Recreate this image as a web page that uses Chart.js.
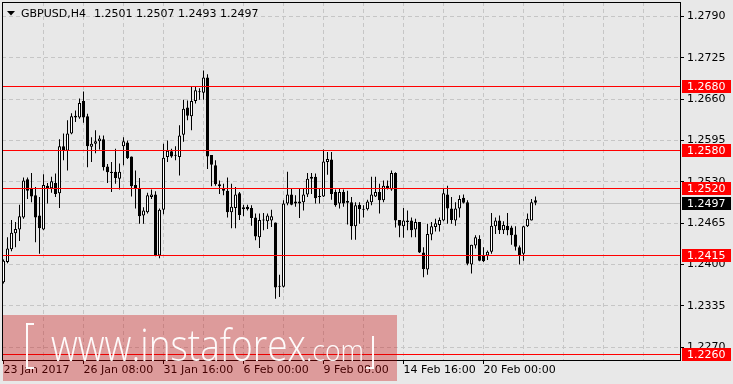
<!DOCTYPE html>
<html>
<head>
<meta charset="utf-8">
<script src="https://cdn.jsdelivr.net/npm/chart.js@4.4.1/dist/chart.umd.min.js"></script>
<style>
  html, body { margin: 0; padding: 0; background: #e8e8e8; overflow: hidden; }
  canvas { display: block; }
</style>
</head>
<body>
<canvas id="chart" width="733" height="384"></canvas>
<script>
// GBPUSD H4, one value per bar (23 Jan 2017 00:00 ... 22 Feb 2017 04:00)
const symbol = 'GBPUSD,H4';
const opens = [
  1.2372, 1.2404, 1.2424, 1.2449, 1.2455, 1.2474, 1.2534, 1.2519, 1.2509, 1.2477,
  1.2455, 1.2524, 1.2520, 1.2528, 1.2512, 1.2586, 1.2579, 1.2606, 1.2634, 1.2631,
  1.2657, 1.2633, 1.2585, 1.2590, 1.2594, 1.2597, 1.2554, 1.2546, 1.2546, 1.2535,
  1.2586, 1.2592, 1.2570, 1.2525, 1.2520, 1.2477, 1.2482, 1.2506, 1.2510, 1.2414,
  1.2486, 1.2569, 1.2578, 1.2572, 1.2569, 1.2604, 1.2647, 1.2633, 1.2657, 1.2671,
  1.2670, 1.2694, 1.2572, 1.2556, 1.2526, 1.2519, 1.2516, 1.2482, 1.2489, 1.2512,
  1.2490, 1.2491, 1.2489, 1.2474, 1.2443, 1.2469, 1.2468, 1.2469, 1.2466, 1.2365,
  1.2365, 1.2496, 1.2510, 1.2496, 1.2499, 1.2498, 1.2510, 1.2535, 1.2538, 1.2506,
  1.2507, 1.2561, 1.2565, 1.2514, 1.2496, 1.2514, 1.2500, 1.2498, 1.2460, 1.2494,
  1.2487, 1.2487, 1.2498, 1.2507, 1.2514, 1.2501, 1.2524, 1.2518, 1.2544, 1.2470,
  1.2460, 1.2469, 1.2469, 1.2455, 1.2467, 1.2419, 1.2392, 1.2447, 1.2459, 1.2462,
  1.2469, 1.2510, 1.2488, 1.2469, 1.2488, 1.2505, 1.2498, 1.2400, 1.2430, 1.2440,
  1.2414, 1.2414, 1.2420, 1.2460, 1.2469, 1.2454, 1.2461, 1.2458, 1.2447, 1.2427,
  1.2417, 1.2460, 1.2469, 1.2501
];
const highs = [
  1.2408, 1.2443, 1.2470, 1.2467, 1.2494, 1.2537, 1.2537, 1.2544, 1.2522, 1.2506,
  1.2542, 1.2528, 1.2538, 1.2543, 1.2597, 1.2606, 1.2627, 1.2638, 1.2642, 1.2661,
  1.2672, 1.2637, 1.2600, 1.2611, 1.2603, 1.2603, 1.2558, 1.2561, 1.2582, 1.2559,
  1.2600, 1.2595, 1.2570, 1.2548, 1.2536, 1.2490, 1.2513, 1.2518, 1.2515, 1.2488,
  1.2590, 1.2595, 1.2582, 1.2586, 1.2619, 1.2659, 1.2658, 1.2679, 1.2679, 1.2677,
  1.2705, 1.2699, 1.2572, 1.2564, 1.2532, 1.2527, 1.2537, 1.2527, 1.2522, 1.2514,
  1.2494, 1.2494, 1.2493, 1.2480, 1.2480, 1.2481, 1.2480, 1.2486, 1.2466, 1.2384,
  1.2501, 1.2546, 1.2519, 1.2509, 1.2519, 1.2519, 1.2544, 1.2544, 1.2543, 1.2519,
  1.2581, 1.2577, 1.2577, 1.2518, 1.2519, 1.2518, 1.2516, 1.2506, 1.2498, 1.2498,
  1.2493, 1.2502, 1.2538, 1.2538, 1.2527, 1.2532, 1.2532, 1.2548, 1.2545, 1.2470,
  1.2489, 1.2485, 1.2474, 1.2472, 1.2467, 1.2427, 1.2464, 1.2467, 1.2472, 1.2474,
  1.2519, 1.2524, 1.2506, 1.2498, 1.2509, 1.2510, 1.2501, 1.2431, 1.2446, 1.2446,
  1.2427, 1.2422, 1.2481, 1.2474, 1.2477, 1.2468, 1.2481, 1.2461, 1.2460, 1.2430,
  1.2461, 1.2480, 1.2503, 1.2507
];
const lows = [
  1.2370, 1.2402, 1.2421, 1.2427, 1.2437, 1.2472, 1.2503, 1.2498, 1.2435, 1.2417,
  1.2454, 1.2496, 1.2513, 1.2506, 1.2489, 1.2564, 1.2548, 1.2605, 1.2624, 1.2629,
  1.2623, 1.2553, 1.2561, 1.2575, 1.2581, 1.2548, 1.2528, 1.2514, 1.2527, 1.2518,
  1.2556, 1.2566, 1.2507, 1.2488, 1.2464, 1.2464, 1.2480, 1.2503, 1.2413, 1.2410,
  1.2479, 1.2561, 1.2568, 1.2564, 1.2540, 1.2593, 1.2627, 1.2611, 1.2653, 1.2659,
  1.2659, 1.2550, 1.2523, 1.2524, 1.2511, 1.2509, 1.2474, 1.2457, 1.2457, 1.2470,
  1.2476, 1.2485, 1.2461, 1.2438, 1.2426, 1.2454, 1.2456, 1.2459, 1.2346, 1.2349,
  1.2364, 1.2493, 1.2493, 1.2491, 1.2473, 1.2485, 1.2506, 1.2511, 1.2496, 1.2496,
  1.2506, 1.2541, 1.2502, 1.2491, 1.2488, 1.2491, 1.2463, 1.2439, 1.2439, 1.2464,
  1.2474, 1.2485, 1.2493, 1.2506, 1.2480, 1.2498, 1.2518, 1.2516, 1.2458, 1.2443,
  1.2442, 1.2454, 1.2443, 1.2443, 1.2418, 1.2380, 1.2384, 1.2438, 1.2452, 1.2452,
  1.2468, 1.2464, 1.2464, 1.2461, 1.2474, 1.2496, 1.2399, 1.2386, 1.2425, 1.2405,
  1.2404, 1.2407, 1.2417, 1.2448, 1.2448, 1.2448, 1.2446, 1.2431, 1.2422, 1.2400,
  1.2406, 1.2459, 1.2469, 1.2493
];
const closes = [
  1.2406, 1.2425, 1.2450, 1.2456, 1.2476, 1.2532, 1.2516, 1.2507, 1.2474, 1.2457,
  1.2525, 1.2519, 1.2531, 1.2511, 1.2586, 1.2579, 1.2606, 1.2633, 1.2631, 1.2654,
  1.2631, 1.2586, 1.2590, 1.2594, 1.2598, 1.2553, 1.2545, 1.2544, 1.2536, 1.2546,
  1.2594, 1.2567, 1.2523, 1.2519, 1.2476, 1.2485, 1.2509, 1.2510, 1.2414, 1.2486,
  1.2568, 1.2579, 1.2570, 1.2571, 1.2603, 1.2645, 1.2634, 1.2657, 1.2674, 1.2672,
  1.2694, 1.2570, 1.2557, 1.2526, 1.2523, 1.2516, 1.2482, 1.2491, 1.2510, 1.2478,
  1.2487, 1.2487, 1.2473, 1.2444, 1.2470, 1.2470, 1.2477, 1.2476, 1.2364, 1.2365,
  1.2496, 1.2510, 1.2494, 1.2499, 1.2496, 1.2510, 1.2535, 1.2538, 1.2504, 1.2507,
  1.2562, 1.2566, 1.2511, 1.2493, 1.2514, 1.2496, 1.2497, 1.2460, 1.2493, 1.2487,
  1.2486, 1.2499, 1.2510, 1.2514, 1.2501, 1.2524, 1.2520, 1.2544, 1.2469, 1.2461,
  1.2469, 1.2467, 1.2454, 1.2467, 1.2419, 1.2393, 1.2448, 1.2460, 1.2465, 1.2470,
  1.2512, 1.2488, 1.2470, 1.2488, 1.2503, 1.2497, 1.2401, 1.2431, 1.2443, 1.2406,
  1.2405, 1.2420, 1.2461, 1.2469, 1.2454, 1.2462, 1.2454, 1.2446, 1.2428, 1.2414,
  1.2460, 1.2472, 1.2498, 1.2497
];

// time axis: bar index of each labelled tick
const dateTicks = [0, 20, 40, 60, 80, 100, 120];
const dateLabels = ['23 Jan 2017', '26 Jan 08:00', '31 Jan 16:00', '6 Feb 00:00', '9 Feb 08:00', '14 Feb 16:00', '20 Feb 00:00'];
const gridSteps = [0, 10, 20, 30, 40, 50, 60, 70, 80, 90, 100, 110, 120, 130, 140, 150, 160];

// price axis
const priceTicks = [1.2270, 1.2335, 1.2400, 1.2465, 1.2530, 1.2595, 1.2660, 1.2725, 1.2790];
const levels = [1.2680, 1.2580, 1.2520, 1.2415, 1.2260];
const bid = 1.2497;

const FONT = 'DejaVu Sans';
const idx = opens.map((_, i) => i);

const bodies = idx.map(i => ({ x: i, y: [opens[i], closes[i]] }));
const wicks = idx.map(i => ({ x: i, y: [lows[i], highs[i]] }));

const px = (y) => Math.round(y) + 0.5;

const overlay = {
  id: 'overlay',
  beforeDraw(chart) {
    const ctx = chart.ctx;
    ctx.save();
    ctx.fillStyle = '#e8e8e8';
    ctx.fillRect(0, 0, chart.width, chart.height);
    ctx.restore();
  },
  beforeDatasetsDraw(chart) {
    const { ctx, chartArea: a, scales: { y } } = chart;
    ctx.save();
    ctx.strokeStyle = '#c0c0c0';
    ctx.lineWidth = 1;
    const yy = px(y.getPixelForValue(bid));
    ctx.beginPath(); ctx.moveTo(a.left, yy); ctx.lineTo(a.right, yy); ctx.stroke();
    ctx.restore();
  },
  afterDatasetsDraw(chart) {
    const { ctx, chartArea: a, scales: { y } } = chart;
    ctx.save();
    ctx.strokeStyle = '#ff0000';
    ctx.lineWidth = 1;
    levels.forEach(l => {
      const yy = px(y.getPixelForValue(l));
      ctx.beginPath(); ctx.moveTo(a.left, yy); ctx.lineTo(a.right, yy); ctx.stroke();
    });
    // frame
    ctx.strokeStyle = '#000';
    ctx.strokeRect(a.left + 0.5, a.top + 0.5, a.right - a.left, a.bottom - a.top);
    ctx.restore();
  },
  afterDraw(chart) {
    const { ctx, chartArea: a, scales: { y } } = chart;
    ctx.save();
    ctx.font = '11px "' + FONT + '"';
    ctx.textBaseline = 'middle';
    // price labels on the axis
    const tag = (v, bg) => {
      const yy = Math.round(y.getPixelForValue(v));
      ctx.fillStyle = bg;
      ctx.fillRect(a.right + 2, yy - 6, 49, 13);
      ctx.fillStyle = '#fff';
      ctx.fillText(v.toFixed(4), a.right + 7, yy + 1);
    };
    levels.forEach(l => tag(l, '#ff0000'));
    tag(bid, '#000');

    // title
    ctx.fillStyle = '#000';
    ctx.beginPath();
    ctx.moveTo(7, 11); ctx.lineTo(15, 11); ctx.lineTo(11, 15.5); ctx.closePath();
    ctx.fill();
    ctx.textBaseline = 'alphabetic';
    ctx.fillText(symbol, 21, 16.5);
    ctx.fillText([opens[133], highs[133], lows[133], closes[133]].map(v => v.toFixed(4)).join(' '), 94, 16.5);

    // watermark
    ctx.fillStyle = 'rgba(200,0,0,0.33)';
    ctx.fillRect(3, 315, 394, 66);
    ctx.fillStyle = 'rgba(255,255,255,0.95)';
    const fit = (text, font, x, base, w) => {
      ctx.font = font;
      const m = ctx.measureText(text).width;
      ctx.save();
      ctx.translate(x, base);
      ctx.scale(w / m, 1);
      ctx.fillText(text, 0, 0);
      ctx.restore();
    };
    fit('www.instaforex', '300 44px "Open Sans"', 51, 361, 255);
    fit('.com', '300 30px "Open Sans"', 306, 361, 58);
    // brackets
    ctx.fillRect(26, 323, 2, 46);
    ctx.fillRect(26, 323, 8, 2);
    ctx.fillRect(26, 367, 8, 2);
    ctx.fillRect(372, 336, 2, 33);
    ctx.fillRect(366, 367, 8, 2);
    ctx.restore();
  }
};

new Chart(document.getElementById('chart').getContext('2d'), {
  type: 'bar',
  data: {
    datasets: [
      {
        label: 'body',
        data: bodies,
        grouped: false,
        barThickness: 3,
        minBarLength: 1,
        inflateAmount: 0,
        borderWidth: 1,
        borderSkipped: false,
        borderColor: '#000',
        backgroundColor: c => closes[c.dataIndex] >= opens[c.dataIndex] ? '#fff' : '#000',
        order: 0
      },
      {
        label: 'wick',
        data: wicks,
        grouped: false,
        barThickness: 1,
        inflateAmount: 0,
        borderWidth: 0,
        backgroundColor: '#000',
        order: 1
      }
    ]
  },
  options: {
    responsive: false,
    animation: false,
    devicePixelRatio: 1,
    layout: { padding: { left: 2, top: 2, right: 0, bottom: 0 } },
    plugins: { legend: { display: false }, tooltip: { enabled: false } },
    scales: {
      x: {
        type: 'linear',
        min: -0.375,
        max: 169.125,
        offset: false,
        afterBuildTicks: s => { s.ticks = gridSteps.map(v => ({ value: v })); },
        afterFit: s => { s.height = 24; s.paddingLeft = 0; s.paddingRight = 0; },
        grid: {
          offset: false,
          color: c => (c.tick && c.tick.value === 0) ? 'rgba(0,0,0,0)' : '#c6c6c6',
          tickLength: 4,
          tickColor: c => (c.tick && dateTicks.includes(c.tick.value)) ? '#000' : 'rgba(0,0,0,0)'
        },
        border: { display: false, dash: [4, 3] },
        ticks: {
          autoSkip: false,
          maxRotation: 0,
          align: 'start',
          padding: 0,
          color: '#000',
          font: { family: FONT, size: 11 },
          callback: v => { const k = dateTicks.indexOf(v); return k < 0 ? '' : dateLabels[k]; }
        }
      },
      y: {
        type: 'linear',
        position: 'right',
        beginAtZero: false,
        min: 1.22498,
        max: 1.28128,
        afterBuildTicks: s => { s.ticks = priceTicks.map(v => ({ value: v })); },
        afterFit: s => { s.width = 53; s.paddingTop = 0; s.paddingBottom = 0; },
        grid: { color: '#c6c6c6', tickLength: 4, tickColor: '#000' },
        border: { display: false, dash: [4, 3] },
        ticks: {
          padding: 3,
          color: '#000',
          font: { family: FONT, size: 11 },
          callback: v => v.toFixed(4)
        }
      }
    }
  },
  plugins: [overlay]
});
</script>
</body>
</html>
